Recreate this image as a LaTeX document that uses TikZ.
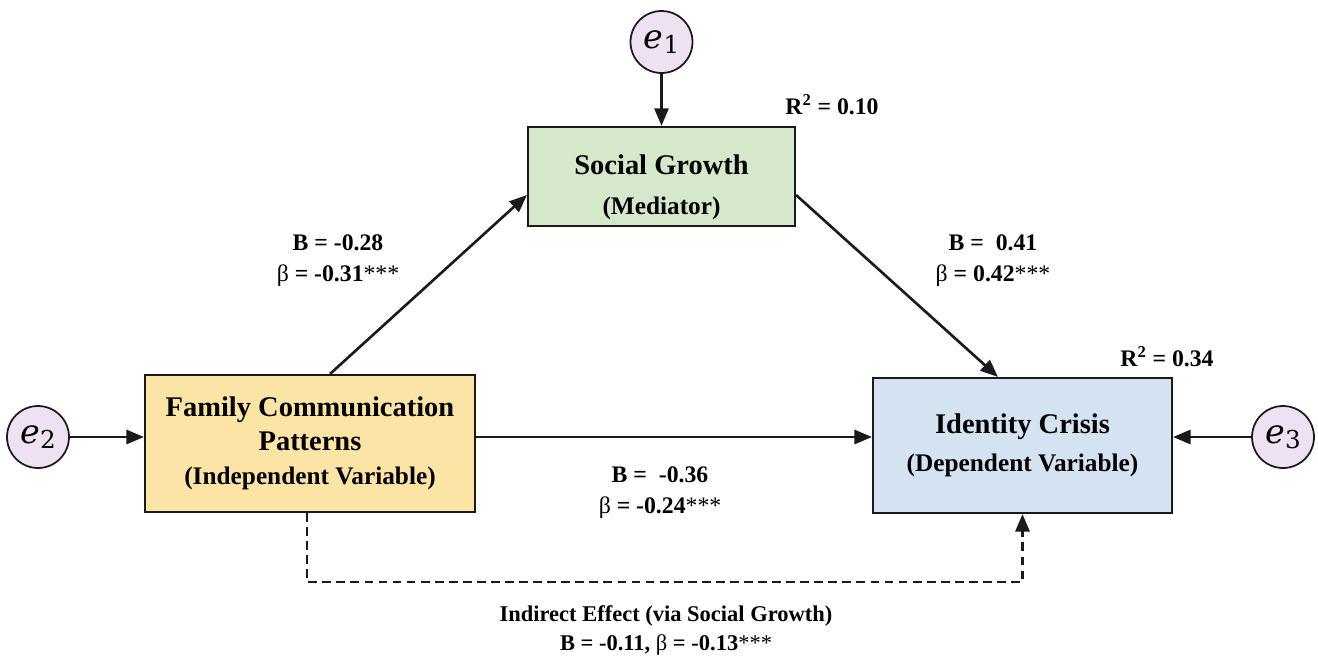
\documentclass[tikz,border=0pt]{standalone}
\usepackage{fontspec}
\setmainfont{Liberation Serif}
\newfontfamily\errfont{DejaVu Serif}
\usepackage{tikz}
\usetikzlibrary{arrows.meta}

\definecolor{socfill}{HTML}{D5E8CC}
\definecolor{famfill}{HTML}{FCE4A6}
\definecolor{idfill}{HTML}{D4E2F1}
\definecolor{errfill}{HTML}{EEE2F2}
\definecolor{edge}{HTML}{1A1A1A}

\newcommand{\boxsub}{\fontsize{14.4}{14.4}\selectfont}
\newcommand{\errlabel}[1]{{\errfont\itshape e}\raisebox{-0.3ex}{\errfont\fontsize{14}{14}\selectfont #1}}

\tikzset{
  varbox/.style={draw=edge, line width=1.2pt, align=center},
  errnode/.style={circle, draw=edge, line width=1pt, fill=errfill, minimum size=1.24cm, inner sep=0pt, font=\fontsize{19}{20}\selectfont},
  coef/.style={align=center, font=\fontsize{13.5}{17.5}\selectfont},
  path/.style={draw=edge, line width=1.5pt, -{Triangle[length=10pt,width=8pt]}},
}

\begin{document}
\begin{tikzpicture}[x=0.02cm, y=-0.02cm]
    \useasboundingbox (0,0) rectangle (1318,663);

    % draw boxes
    \node[varbox, fill=socfill, minimum width=5.34cm, minimum height=1.94cm, font=\bfseries\fontsize{16.2}{22.7}\selectfont] (soc) at (661.5,176.5)
      {\rule{0pt}{24pt}Social Growth\\{\boxsub (Mediator)}};
    \node[varbox, fill=famfill, minimum width=6.6cm, minimum height=2.74cm, font=\bfseries\fontsize{16.2}{19.3}\selectfont] (fam) at (310,443.5)
      {Family Communication\\Patterns\\{\boxsub (Independent Variable)}};
    \node[varbox, fill=idfill, minimum width=5.98cm, minimum height=2.7cm, font=\bfseries\fontsize{16.2}{21.5}\selectfont] (ident) at (1022.5,445.5)
      {Identity Crisis\\{\boxsub (Dependent Variable)}};

    % draw error terms
    \node[errnode] (e1) at (661.5,42) {\errlabel{1}};
    \node[errnode] (e2) at (38,437) {\errlabel{2}};
    \node[errnode] (e3) at (1283,437) {\errlabel{3}};

    % draw paths
    \draw[path] (e1) -- (soc.north);
    \draw[path] (e2) -- (e2 -| fam.west);
    \draw[path] (e3) -- (e3 -| ident.east);
    \draw[path] ([xshift=0.4cm]fam.north) -- ([yshift=-0.37cm]soc.west);
    \draw[path] ([yshift=-0.37cm]soc.east) -- ([xshift=-0.49cm]ident.north);
    \draw[path] (fam.east |- e2) -- (ident.west |- e2);

    % draw indirect path
    \coordinate (dl) at (307,582);
    \coordinate (dr) at (ident.south |- dl);
    \draw[path, dash pattern=on 5pt off 3pt, line width=1.6pt] (fam.south -| dl) -- (dl) -- (dr) -- (ident.south);

    % draw labels
    \node[coef] (r2soc) at (832,105) {\textbf{R\textsuperscript{2} = 0.10}};
    \node[coef] (r2id) at (1167,357) {\textbf{R\textsuperscript{2} = 0.34}};
    \node[coef] (la) at (338,261) {\textbf{B = -0.28}\\β \textbf{= -0.31}***};
    \node[coef] (lb) at (993,261) {\textbf{B =\ \ 0.41}\\β \textbf{= 0.42}***};
    \node[coef] (lc) at (660,493) {\textbf{B =\ \ -0.36}\\β \textbf{= -0.24}***};
    \node[coef, font=\fontsize{12.8}{16.5}\selectfont] (ld) at (666,630) {\textbf{Indirect Effect (via Social Growth)}\\\textbf{B = -0.11,} β \textbf{= -0.13}***};
\end{tikzpicture}
\end{document}
